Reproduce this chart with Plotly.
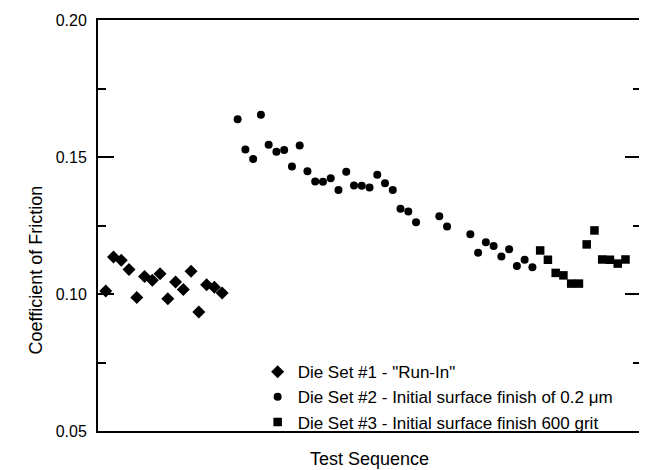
import plotly.graph_objects as go

# Data
die1_test = list(range(1, 17))
die1_cof = [0.1011, 0.1135, 0.1123, 0.1089, 0.0987, 0.1064, 0.1050, 0.1074,
            0.0983, 0.1044, 0.1016, 0.1083, 0.0934, 0.1034, 0.1025, 0.1004]

die2_test = list(range(18, 42)) + [44, 45] + list(range(48, 57))
die2_cof = [0.1638, 0.1527, 0.1493, 0.1654, 0.1545, 0.1519, 0.1526, 0.1465,
            0.1542, 0.1448, 0.1411, 0.1410, 0.1422, 0.1380, 0.1446, 0.1396,
            0.1395, 0.1389, 0.1435, 0.1404, 0.1380, 0.1311, 0.1301, 0.1262,
            0.1284, 0.1246, 0.1218, 0.1151, 0.1189, 0.1175, 0.1137, 0.1163,
            0.1102, 0.1125, 0.1098]

die3_test = list(range(57, 69))
die3_cof = [0.1159, 0.1125, 0.1077, 0.1068, 0.1038, 0.1038, 0.1181, 0.1232,
            0.1126, 0.1125, 0.1111, 0.1126]

names = ['Die Set #1 - "Run-In"',
         'Die Set #2 - Initial surface finish of 0.2 \u03bcm',
         'Die Set #3 - Initial surface finish 600 grit']

y_ticks = [0.05, 0.10, 0.15, 0.20]
y_ticklabels = ["0.05", "0.10", "0.15", "0.20"]

FONT = "Liberation Sans, Arial, Helvetica, sans-serif"

fig = go.Figure()
fig.add_trace(go.Scatter(x=die1_test, y=die1_cof, mode="markers", name=names[0],
                         legendgroup="a",
                         marker=dict(symbol="diamond", size=10, color="black")))
fig.add_trace(go.Scatter(x=die2_test, y=die2_cof, mode="markers", name=names[1],
                         legendgroup="b",
                         marker=dict(symbol="circle", size=8, color="black")))
fig.add_trace(go.Scatter(x=die3_test, y=die3_cof, mode="markers", name=names[2],
                         legendgroup="c",
                         marker=dict(symbol="square", size=8.5, color="black")))

# the page body adds an 8px offset, so the figure is sized 8px smaller
fig.update_layout(
    width=639, height=462,
    margin=dict(l=90, r=4, t=11, b=39),
    paper_bgcolor="white", plot_bgcolor="white",
    font=dict(family=FONT, color="black", size=16),
    showlegend=True,
    legend=dict(x=0.294, y=0.187, xanchor="left", yanchor="top",
                bgcolor="rgba(0,0,0,0)", borderwidth=0,
                font=dict(size=17, family=FONT), tracegroupgap=0),
    xaxis=dict(range=[0, 70], showticklabels=False, ticks="",
               showgrid=False, zeroline=False,
               showline=True, linecolor="black", linewidth=2, mirror=True),
    yaxis=dict(range=[0.05, 0.20], tickmode="array", tickvals=y_ticks,
               ticktext=y_ticklabels, ticks="inside", ticklen=16, tickwidth=1.5,
               tickcolor="black", ticklabelstandoff=6,
               minor=dict(dtick=0.025, tick0=0.05, ticks="inside", ticklen=8,
                          tickwidth=1.5, tickcolor="black", showgrid=False),
               showgrid=False, zeroline=False,
               showline=True, linecolor="black", linewidth=2, mirror="ticks",
               tickfont=dict(size=16, family=FONT)),
)

fig.add_annotation(text="Coefficient of Friction", xref="paper", yref="paper",
                   x=-0.114, y=0.391, xanchor="center", yanchor="middle",
                   textangle=-90, showarrow=False,
                   font=dict(size=18, family=FONT))
fig.add_annotation(text="Test Sequence", xref="paper", yref="paper",
                   x=0.5, y=-0.068, xanchor="center", yanchor="middle",
                   showarrow=False, font=dict(size=18, family=FONT))

fig.write_html("out.html")
